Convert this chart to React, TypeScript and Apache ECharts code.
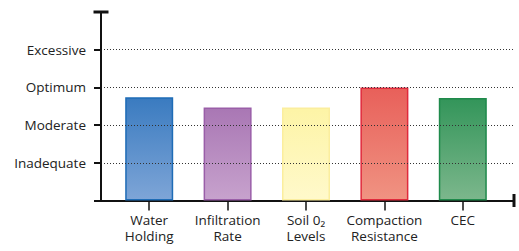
import React, { useEffect, useRef } from "react";
import * as echarts from "echarts";

const categories = ["Water\nHolding", "Infiltration\nRate", "Soil 0₂\nLevels", "Compaction\nResistance", "CEC"];
const values = [2.74, 2.47, 2.47, 3.0, 2.72];
const levelLabels = ["", "Inadequate", "Moderate", "Optimum", "Excessive", ""];
const topColors = ["#3a7bc0", "#a977b4", "#fdf4a6", "#e8605a", "#33955a"];
const bottomColors = ["#7ea5d7", "#c7a2cd", "#fff9cb", "#f09382", "#7cb78c"];
const borderColors = ["#1e6cb6", "#9a5ea8", "#fbee9e", "#e02a3c", "#1f8a4b"];

const FONT = "Open Sans";

export default function App() {
  const ref = useRef<HTMLDivElement>(null);
  useEffect(() => {
    if (!ref.current) return;
    const chart = echarts.init(ref.current, undefined, { renderer: "svg" });
    const levels = levelLabels.map((l, i) => (l ? i : -1)).filter((i) => i >= 0);
    chart.setOption({
      animation: false,
      grid: [
        { left: 101, right: 5, top: 12, bottom: 50.5 },
        { left: 110, right: 17, top: 12, bottom: 50.5 },
      ],
      xAxis: [
        {
          type: "value",
          gridIndex: 0,
          min: 0,
          max: 1,
          axisLine: {
            show: true,
            lineStyle: { color: "#111", width: 2 },
            symbol: ["none", "rect"],
            symbolSize: [13, 3],
          },
          axisTick: { show: false },
          axisLabel: { show: false },
          splitLine: { show: false },
        },
        {
          type: "category",
          gridIndex: 1,
          data: categories,
          boundaryGap: true,
          axisLine: { show: false },
          axisTick: {
            show: true,
            alignWithLabel: true,
            length: 10,
            lineStyle: { color: "#111", width: 1.5 },
          },
          axisLabel: {
            interval: 0,
            margin: 11,
            color: "#222",
            fontFamily: FONT,
            fontSize: 13.5,
            lineHeight: 16,
          },
        },
      ],
      yAxis: [
        {
          type: "value",
          gridIndex: 0,
          min: 0,
          max: 5,
          interval: 1,
          z: 5,
          axisLine: {
            show: true,
            lineStyle: { color: "#111", width: 2 },
            symbol: ["none", "rect"],
            symbolSize: [15, 3],
          },
          axisTick: {
            show: true,
            length: 7,
            lineStyle: { color: "#111", width: 2 },
            interval: (i: number) => levelLabels[i] !== "",
          },
          axisLabel: {
            margin: 15,
            color: "#222",
            fontFamily: FONT,
            fontSize: 13.5,
            formatter: (v: number) => levelLabels[Math.round(v)] || "",
          },
          splitLine: { show: false },
        },
        {
          type: "value",
          gridIndex: 1,
          min: 0,
          max: 5,
          interval: 1,
          show: false,
        },
      ],
      series: [
        {
          type: "bar",
          xAxisIndex: 1,
          yAxisIndex: 1,
          barWidth: 48,
          z: 2,
          data: values.map((v, i) => ({
            value: v,
            itemStyle: {
              color: new echarts.graphic.LinearGradient(0, 0, 0, 1, [
                { offset: 0, color: topColors[i] },
                { offset: 1, color: bottomColors[i] },
              ]),
              borderColor: borderColors[i],
              borderWidth: 1.5,
            },
          })),
        },
        {
          type: "line",
          xAxisIndex: 0,
          yAxisIndex: 0,
          data: [],
          z: 4,
          silent: true,
          markLine: {
            silent: true,
            symbol: ["none", "none"],
            label: { show: false },
            lineStyle: { color: "#333", width: 1, type: [1, 2] },
            data: levels.map((v) => ({ yAxis: v })),
          },
        },
      ],
    });
    return () => chart.dispose();
  }, []);
  return <div ref={ref} style={{ width: 519, height: 251, position: "absolute", left: 0, top: 0 }} />;
}
